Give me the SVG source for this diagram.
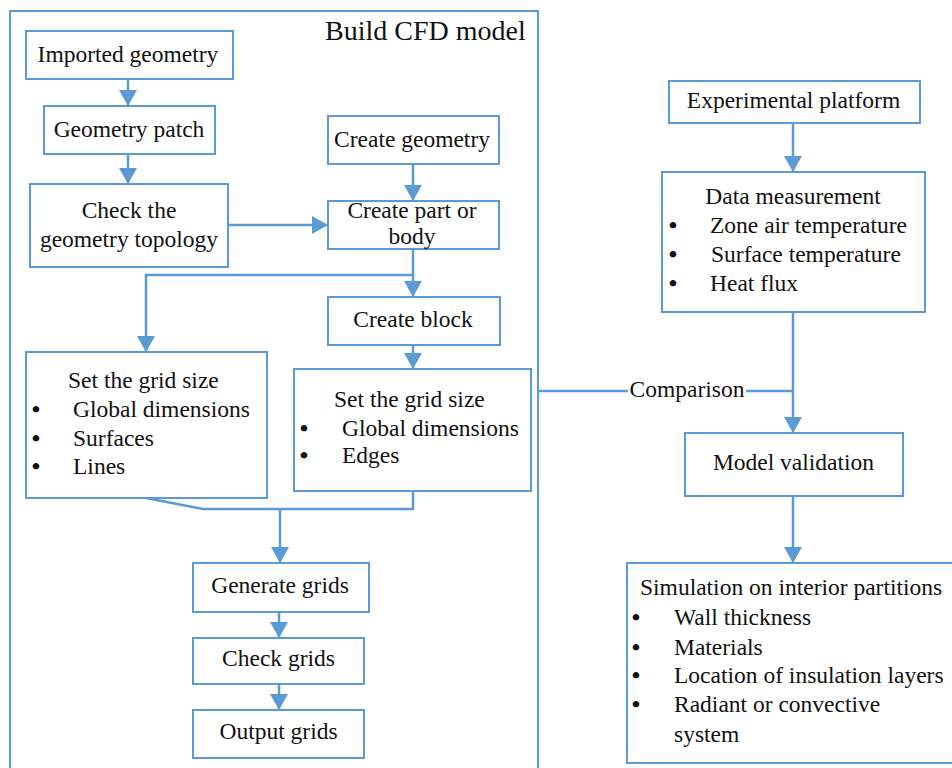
<svg xmlns="http://www.w3.org/2000/svg" width="952" height="768" viewBox="0 0 952 768" font-family="'Liberation Serif', 'DejaVu Serif', serif">
  <defs>
    <marker id="arrow" viewBox="0 0 16 18" refX="16" refY="9" markerWidth="16" markerHeight="18" markerUnits="userSpaceOnUse" orient="auto">
      <path d="M0,0 L16,9 L0,18 z" fill="#5B9BD5"/>
    </marker>
    <style>
      .box { fill: #ffffff; stroke: #5B9BD5; stroke-width: 2; }
      .frame { fill: none; stroke: #5B9BD5; stroke-width: 2; }
      .link { fill: none; stroke: #5B9BD5; stroke-width: 2.5; }
      .arr { marker-end: url(#arrow); }
      text { font-family: 'Liberation Serif', 'DejaVu Serif', serif; font-size: 23.5px; fill: #111111; }
      .c { text-anchor: middle; }
      .title { font-size: 28px; }
      .dot { font-size: 24px; text-anchor: middle; font-weight: bold; }
    </style>
  </defs>
  <rect width="952" height="768" fill="#ffffff"/>

  <!-- CFD model frame -->
  <g id="cfd-frame">
    <rect class="frame" x="10" y="11" width="528" height="780"/>
    <text class="title" x="325" y="40">Build CFD model</text>
  </g>

  <!-- connectors -->
  <g id="connectors">
    <line class="link arr" x1="128" y1="79" x2="128" y2="106"/>
    <line class="link arr" x1="128" y1="154" x2="128" y2="184"/>
    <line class="link arr" x1="228" y1="225" x2="328" y2="225"/>
    <line class="link arr" x1="413" y1="164" x2="413" y2="201"/>
    <line class="link arr" x1="413" y1="249" x2="413" y2="297"/>
    <polyline class="link arr" points="413,275 146,275 146,352"/>
    <line class="link arr" x1="413" y1="345" x2="413" y2="369"/>
    <polyline class="link" points="146,498 203,509 413,509 413,491"/>
    <line class="link arr" x1="280" y1="509" x2="280" y2="563"/>
    <line class="link arr" x1="279" y1="612" x2="279" y2="638"/>
    <line class="link arr" x1="279" y1="684" x2="279" y2="710"/>
    <line class="link arr" x1="793" y1="123" x2="793" y2="172"/>
    <line class="link arr" x1="793" y1="312" x2="793" y2="433"/>
    <line class="link" x1="538" y1="391" x2="628" y2="391"/>
    <line class="link" x1="746" y1="391" x2="793" y2="391"/>
    <text x="687" y="397" class="c">Comparison</text>
    <line class="link arr" x1="793" y1="496" x2="793" y2="563"/>
  </g>

  <g id="imported-geometry">
    <rect class="box" x="26" y="31" width="207" height="48"/>
    <text class="c" x="128" y="62">Imported geometry</text>
  </g>
  <g id="geometry-patch">
    <rect class="box" x="44" y="106" width="171" height="48"/>
    <text class="c" x="129" y="137">Geometry patch</text>
  </g>
  <g id="check-topology">
    <rect class="box" x="30" y="184" width="198" height="83"/>
    <text class="c" x="129" y="218">Check the</text>
    <text class="c" x="129" y="247">geometry topology</text>
  </g>
  <g id="create-geometry">
    <rect class="box" x="328" y="116" width="171" height="48"/>
    <text class="c" x="412" y="147">Create geometry</text>
  </g>
  <g id="create-part">
    <rect class="box" x="328" y="201" width="171" height="48"/>
    <text class="c" x="412" y="218">Create part or</text>
    <text class="c" x="412" y="244">body</text>
  </g>
  <g id="create-block">
    <rect class="box" x="328" y="297" width="172" height="48"/>
    <text class="c" x="413" y="327">Create block</text>
  </g>
  <g id="grid-size-unstructured">
    <rect class="box" x="26" y="352" width="241" height="146"/>
    <text x="68" y="388">Set the grid size</text>
    <text class="dot" x="36" y="417">•</text>
    <text x="73" y="417">Global dimensions</text>
    <text class="dot" x="36" y="446">•</text>
    <text x="73" y="446">Surfaces</text>
    <text class="dot" x="36" y="474">•</text>
    <text x="73" y="474">Lines</text>
  </g>
  <g id="grid-size-block">
    <rect class="box" x="294" y="369" width="237" height="122"/>
    <text x="334" y="407">Set the grid size</text>
    <text class="dot" x="304" y="436">•</text>
    <text x="342" y="436">Global dimensions</text>
    <text class="dot" x="304" y="463">•</text>
    <text x="342" y="463">Edges</text>
  </g>
  <g id="generate-grids">
    <rect class="box" x="193" y="563" width="176" height="49"/>
    <text class="c" x="280" y="593">Generate grids</text>
  </g>
  <g id="check-grids">
    <rect class="box" x="193" y="638" width="171" height="46"/>
    <text class="c" x="278.5" y="666">Check grids</text>
  </g>
  <g id="output-grids">
    <rect class="box" x="193" y="710" width="171" height="48"/>
    <text class="c" x="278.5" y="739">Output grids</text>
  </g>

  <g id="experimental-platform">
    <rect class="box" x="669" y="81" width="251" height="42"/>
    <text class="c" x="793.5" y="108">Experimental platform</text>
  </g>
  <g id="data-measurement">
    <rect class="box" x="662" y="172" width="263" height="140"/>
    <text class="c" x="793" y="204">Data measurement</text>
    <text class="dot" x="673" y="233">•</text>
    <text x="710" y="233">Zone air temperature</text>
    <text class="dot" x="673" y="262">•</text>
    <text x="711" y="262">Surface temperature</text>
    <text class="dot" x="673" y="291">•</text>
    <text x="710" y="291">Heat flux</text>
  </g>
  <g id="model-validation">
    <rect class="box" x="685" y="433" width="218" height="63"/>
    <text class="c" x="793.5" y="470">Model validation</text>
  </g>
  <g id="partition-simulation">
    <rect class="box" x="627" y="563" width="340" height="200"/>
    <text x="640" y="595">Simulation on interior partitions</text>
    <text class="dot" x="636" y="625">•</text>
    <text x="674" y="625">Wall thickness</text>
    <text class="dot" x="636" y="655">•</text>
    <text x="674" y="655">Materials</text>
    <text class="dot" x="636" y="683">•</text>
    <text x="674" y="683">Location of insulation layers</text>
    <text class="dot" x="636" y="712">•</text>
    <text x="674" y="712">Radiant or convective</text>
    <text x="674" y="742">system</text>
  </g>
</svg>
